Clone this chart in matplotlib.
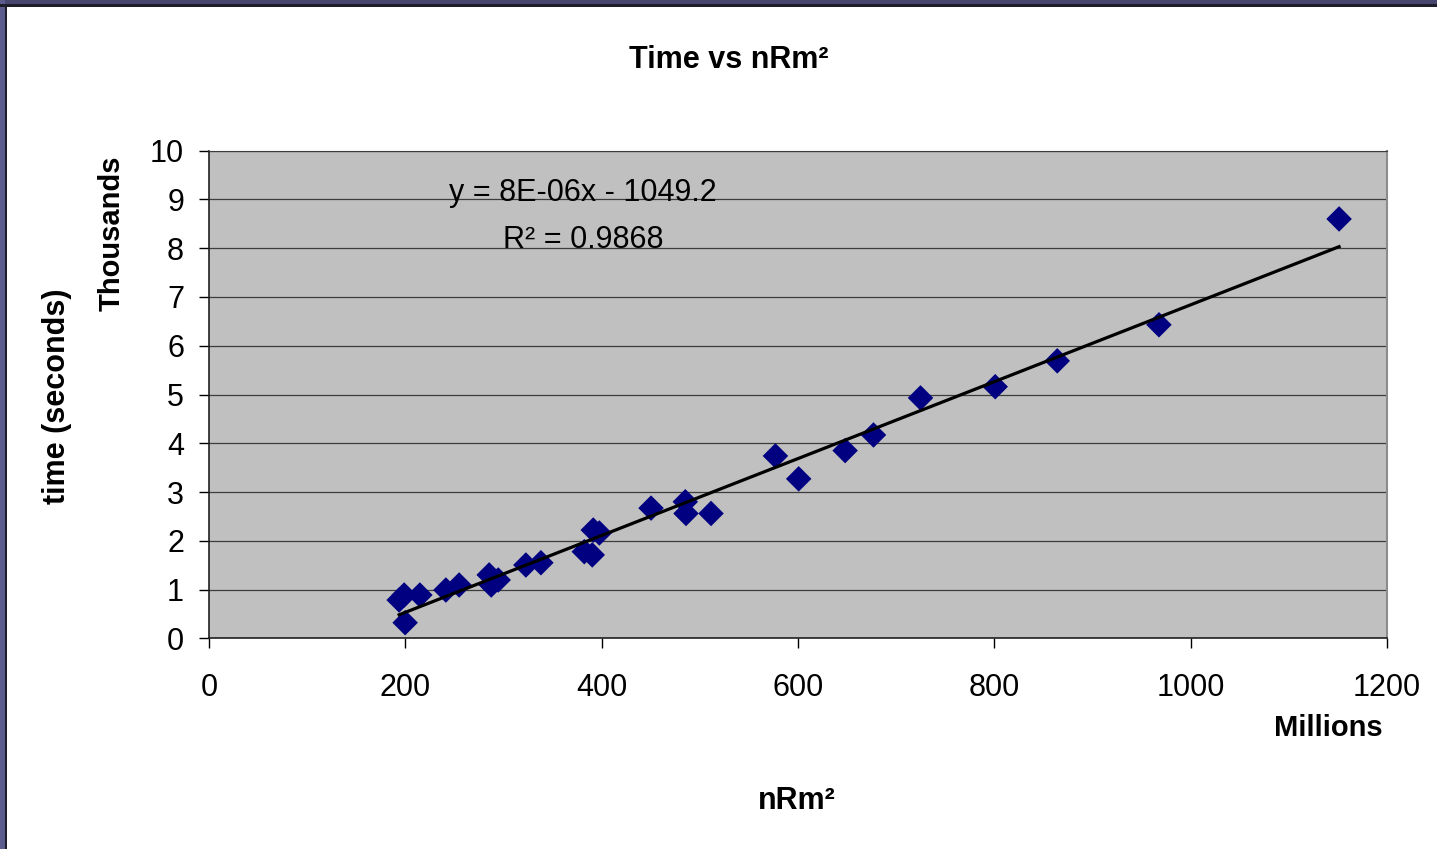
import numpy as np
import matplotlib
matplotlib.use('Agg')
import matplotlib.pyplot as plt
from matplotlib.patches import Rectangle

plt.rcParams['font.family'] = ['Liberation Sans', 'DejaVu Sans']

# nRm^2 (millions) and time (thousands of seconds)
nrm2 = [193.7, 198.8, 199.8, 214.8, 241.3, 254.8, 285.4, 287.5, 294.6,
        322.8, 338.1, 382.3, 390.4, 391.4, 397.6, 450.3, 485.2, 485.9,
        511.4, 577.0, 600.7, 648.0, 676.9, 724.8, 800.9, 864.1, 967.7,
        1151.2]
time_s = [0.785, 0.888, 0.32, 0.888, 0.99, 1.093, 1.30, 1.093, 1.196,
          1.503, 1.55, 1.776, 1.71, 2.22, 2.16, 2.67, 2.80, 2.56,
          2.56, 3.74, 3.27, 3.85, 4.17, 4.93, 5.16, 5.69, 6.43,
          8.60]

x = np.array(nrm2)
y = np.array(time_s)

# linear trendline (as in Excel)
k, b = np.polyfit(x, y, 1)
xl = np.array([x.min(), x.max()])

fig = plt.figure(figsize=(14.37, 8.49), dpi=100)
fig.patch.set_facecolor('white')

# slide border top/left
fig.patches.append(Rectangle((0, 1 - 5 / 849), 1, 5 / 849, transform=fig.transFigure,
                             facecolor='#46466f', edgecolor='none', zorder=0))
fig.patches.append(Rectangle((0, 1 - 6.5 / 849), 1, 2 / 849, transform=fig.transFigure,
                             facecolor='#1e1e2a', edgecolor='none', zorder=1))
fig.patches.append(Rectangle((0, 0), 5 / 1437, 1, transform=fig.transFigure,
                             facecolor='#5b5b8e', edgecolor='none', zorder=0))
fig.patches.append(Rectangle((5 / 1437, 0), 2 / 1437, 1 - 5 / 849, transform=fig.transFigure,
                             facecolor='#1e1e2a', edgecolor='none', zorder=1))

ax = fig.add_axes([209 / 1437, 1 - 638.3 / 849, (1387 - 209) / 1437, (638.3 - 150.7) / 849])
ax.set_facecolor('#c0c0c0')

ax.scatter(x, y, marker='D', s=13 ** 2, color='#000080', edgecolors='none', zorder=3)
ax.plot(xl, k * xl + b, color='black', linewidth=2.3, zorder=4)

ax.set_xlim(0, 1200)
ax.set_ylim(0, 10)
ax.set_xticks(np.arange(0, 1201, 200))
ax.set_yticks(np.arange(0, 11, 1))

ax.yaxis.grid(True, color='#3c3c3c', linewidth=0.9)
ax.set_axisbelow(True)

ax.tick_params(axis='both', direction='out', length=7, width=1, color='black', labelsize=22)
ax.tick_params(axis='y', pad=11)
ax.tick_params(axis='x', pad=18)

for s in ['left', 'bottom']:
    ax.spines[s].set_color('#202020')
    ax.spines[s].set_linewidth(1.2)
ax.spines['top'].set_color('#3c3c3c')
ax.spines['right'].set_color('#8c8c8c')
ax.spines['right'].set_linewidth(1.5)

# texts
fig.text(729 / 1437, 1 - 60 / 849, 'Time vs nRm²', ha='center', va='center',
         fontsize=22, fontweight='bold')
fig.text(797 / 1437, 1 - 801 / 849, 'nRm²', ha='center', va='center',
         fontsize=22, fontweight='bold')
fig.text(1383 / 1437, 1 - 728 / 849, 'Millions', ha='right', va='center',
         fontsize=21, fontweight='bold')
fig.text(57 / 1437, 1 - 396 / 849, 'time (seconds)', ha='center', va='center',
         rotation=90, fontsize=22, fontweight='bold')
fig.text(112 / 1437, 1 - 233 / 849, 'Thousands', ha='center', va='center',
         rotation=90, fontsize=21, fontweight='bold')

fig.text(583 / 1437, 1 - 193 / 849, 'y = 8E-06x - 1049.2', ha='center', va='center',
         fontsize=22)
fig.text(583 / 1437, 1 - 240 / 849, 'R² = 0.9868', ha='center', va='center',
         fontsize=22)

plt.savefig('out.png', dpi=100)
